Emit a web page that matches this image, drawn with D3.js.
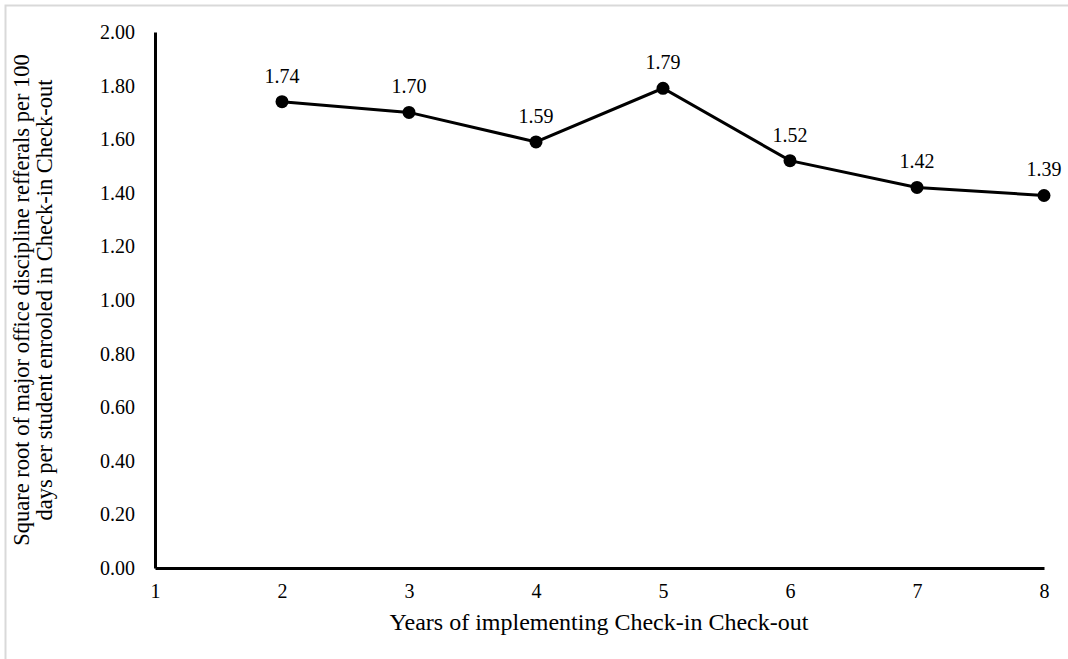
<!DOCTYPE html>
<html>
<head>
<meta charset="utf-8">
<script src="https://cdn.jsdelivr.net/npm/d3@7"></script>
<style>
  html, body { margin: 0; padding: 0; background: #fff; }
  svg { display: block; }
</style>
</head>
<body>
<svg id="chart" width="1068" height="659"></svg>
<script>
// Years of implementation and the square-root referral rate for each year
const years = [2, 3, 4, 5, 6, 7, 8];
const rates = [1.74, 1.70, 1.59, 1.79, 1.52, 1.42, 1.39];
const xTicks = [1, 2, 3, 4, 5, 6, 7, 8];
const yTicks = [0, 0.2, 0.4, 0.6, 0.8, 1.0, 1.2, 1.4, 1.6, 1.8, 2.0];

const FONT = "Liberation Serif";
const svg = d3.select("#chart");
const W = 1068, H = 659;

// Outer frame (only the top and left edges fall inside the page)
svg.append("rect")
  .attr("x", 5.5).attr("y", 5.5)
  .attr("width", W).attr("height", H)
  .attr("fill", "none").attr("stroke", "#d9d9d9").attr("stroke-width", 2);

const plot = { left: 155, right: 1044, top: 32, bottom: 568 };

const x = d3.scaleLinear().domain([1, 8]).range([plot.left, plot.right]);
const y = d3.scaleLinear().domain([0, 2]).range([plot.bottom, plot.top]);

// Y axis: line plus labels, no tick marks
const yAxis = d3.axisLeft(y).tickValues(yTicks).tickSize(0).tickPadding(20)
  .tickFormat(d3.format(".2f"));
const gy = svg.append("g").attr("transform", `translate(${plot.left},0)`).call(yAxis);
gy.select(".domain").attr("stroke", "#000").attr("stroke-width", 3);
gy.selectAll("text").style("font-family", FONT).style("font-size", "20px").attr("fill", "#000");

// X axis
const xAxis = d3.axisBottom(x).tickValues(xTicks).tickSize(0).tickPadding(16)
  .tickFormat(d3.format("d"));
const gx = svg.append("g").attr("transform", `translate(0,${plot.bottom})`).call(xAxis);
gx.select(".domain").attr("stroke", "#000").attr("stroke-width", 3);
gx.selectAll("text").style("font-family", FONT).style("font-size", "20px").attr("fill", "#000");

const data = years.map((yr, i) => ({ yr, v: rates[i] }));

// Series line
svg.append("path")
  .datum(data)
  .attr("fill", "none")
  .attr("stroke", "#000")
  .attr("stroke-width", 3)
  .attr("d", d3.line().x(d => x(d.yr)).y(d => y(d.v)));

// Markers
svg.selectAll("circle.pt").data(data).enter().append("circle")
  .attr("class", "pt")
  .attr("cx", d => x(d.yr)).attr("cy", d => y(d.v))
  .attr("r", 6.5).attr("fill", "#000");

// Value labels
svg.selectAll("text.lbl").data(data).enter().append("text")
  .attr("class", "lbl")
  .attr("x", d => x(d.yr)).attr("y", d => y(d.v) - 19)
  .attr("text-anchor", "middle")
  .style("font-family", FONT)
  .style("font-size", "20px")
  .text(d => d.v.toFixed(2));

// X axis title
svg.append("text")
  .attr("x", 599).attr("y", 630)
  .attr("text-anchor", "middle")
  .style("font-family", FONT)
  .style("font-size", "24px")
  .text("Years of implementing Check-in Check-out");

// Y axis title, two lines
const yt = svg.append("text")
  .attr("transform", "translate(0,300) rotate(-90)")
  .attr("text-anchor", "middle")
  .style("font-family", FONT)
  .style("font-size", "22.5px");
yt.append("tspan").attr("x", 0).attr("y", 28.5)
  .text("Square root of major office discipline refferals per 100");
yt.append("tspan").attr("x", 0).attr("y", 51.5)
  .text("days per student enrooled in Check-in Check-out");
</script>
</body>
</html>
